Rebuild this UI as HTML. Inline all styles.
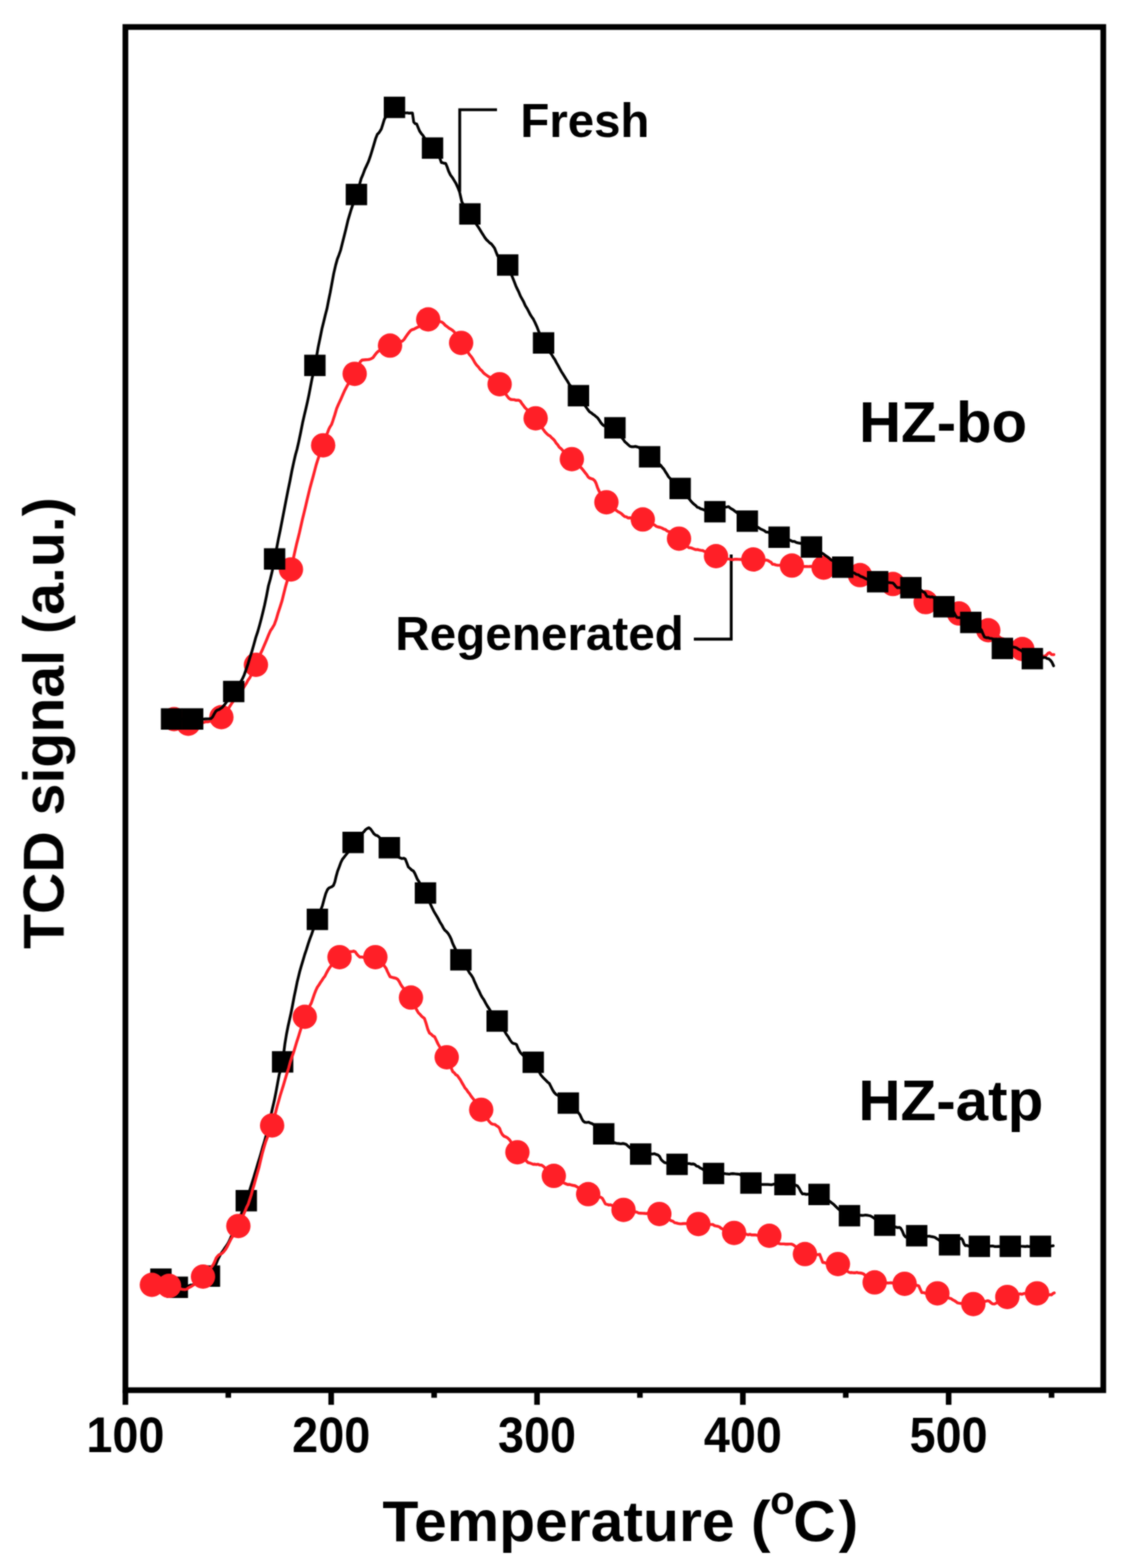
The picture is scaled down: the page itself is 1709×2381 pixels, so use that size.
<!DOCTYPE html>
<html lang="en">
<head>
<meta charset="utf-8">
<title>TCD signal vs temperature: fresh and regenerated HZ-bo and HZ-atp</title>
<style>
html,body{margin:0;padding:0;background:#fff;}
body{width:1709px;height:2381px;overflow:hidden;}
svg{display:block;}
text{font-family:"Liberation Sans",sans-serif;font-weight:700;fill:#000;}
</style>
</head>
<body>
<svg width="1709" height="2381" viewBox="0 0 1709 2381">
<defs><filter id="soft" color-interpolation-filters="sRGB" filterUnits="userSpaceOnUse" x="0" y="0" width="1709" height="2381"><feGaussianBlur in="SourceGraphic" stdDeviation="0.8" result="b"/><feComposite in="SourceGraphic" in2="b" operator="arithmetic" k1="0" k2="0.3" k3="0.7" k4="0"/></filter></defs>
<rect width="1709" height="2381" fill="#fff"/>
<g filter="url(#soft)">
<g fill="none" stroke="#000" stroke-width="4.3" stroke-linejoin="miter"><path d="M698.4 291 V166.7 H755"/><path d="M1110.8 842 V970.5 H1054"/></g>
<g>
<path d="M264.4 1092.0 L267.1 1092.5 L269.8 1094.5 L272.5 1095.6 L275.2 1096.1 L277.9 1097.4 L280.6 1098.2 L283.3 1099.0 L286.0 1099.3 L289.0 1098.5 L291.9 1098.3 L294.9 1099.1 L297.8 1098.4 L300.8 1098.4 L303.8 1097.1 L306.7 1097.2 L309.7 1097.0 L312.6 1095.9 L315.6 1096.1 L318.5 1095.3 L321.5 1093.4 L324.5 1092.6 L327.4 1092.3 L330.4 1091.7 L333.3 1090.0 L336.3 1088.7 L339.0 1087.1 L341.6 1083.6 L344.3 1080.0 L347.0 1076.0 L349.6 1071.8 L352.3 1067.6 L355.1 1063.8 L357.9 1060.1 L360.7 1056.7 L363.6 1052.7 L366.4 1048.5 L369.2 1045.5 L372.0 1041.0 L374.5 1037.2 L376.9 1032.6 L379.4 1029.2 L381.8 1024.6 L384.1 1019.0 L386.4 1014.4 L388.8 1009.8 L391.4 1003.9 L393.9 998.1 L396.4 991.3 L399.0 985.7 L401.9 978.9 L404.9 971.8 L407.9 964.4 L410.8 957.8 L413.8 953.4 L416.7 948.5 L419.6 940.6 L422.6 930.2 L425.6 921.2 L428.5 912.0 L430.9 902.3 L433.4 892.2 L435.8 883.7 L437.9 877.5 L439.9 871.6 L442.0 864.5 L444.3 855.0 L446.5 844.0 L448.8 833.7 L450.8 825.1 L452.9 816.9 L454.9 808.8 L457.2 798.4 L459.5 788.3 L461.8 779.0 L464.1 769.5 L466.4 759.5 L468.7 750.0 L471.0 740.6 L473.3 732.1 L475.6 723.8 L478.0 714.7 L480.3 706.0 L482.6 698.7 L485.4 690.2 L488.1 683.4 L490.9 676.7 L493.7 668.1 L496.6 659.6 L499.4 651.9 L501.4 648.1 L503.5 644.9 L505.5 639.4 L508.4 630.5 L511.4 620.4 L514.3 613.6 L517.3 607.3 L520.2 600.6 L523.2 593.8 L526.1 588.2 L529.0 582.9 L531.5 578.5 L533.9 575.8 L536.3 571.7 L538.8 567.3 L541.6 561.9 L544.5 555.2 L547.3 549.4 L550.1 546.7 L552.9 546.5 L555.6 546.3 L558.4 546.1 L561.1 545.7 L563.9 544.7 L566.6 543.1 L569.3 539.4 L572.0 535.9 L574.7 533.4 L577.7 531.5 L580.6 530.0 L583.6 528.7 L586.6 526.8 L589.5 526.4 L592.5 525.0 L595.2 523.3 L597.9 522.3 L600.6 521.5 L603.4 521.6 L606.1 520.0 L608.8 518.7 L611.5 517.8 L614.0 515.2 L616.4 511.5 L618.9 507.9 L621.3 504.8 L623.8 501.9 L626.3 500.5 L628.7 499.9 L631.2 498.5 L633.6 497.3 L636.1 496.2 L639.0 493.4 L641.9 490.9 L644.7 488.0 L647.6 485.5 L650.5 484.5 L653.5 485.6 L656.5 485.5 L659.5 485.7 L662.5 486.9 L665.5 488.1 L668.5 488.2 L671.5 489.3 L674.0 491.2 L676.6 494.2 L679.1 495.8 L681.9 498.2 L684.7 499.7 L687.5 501.6 L690.1 504.0 L692.7 508.7 L695.3 512.7 L697.9 516.7 L700.5 520.4 L703.1 524.5 L705.7 527.8 L708.2 531.5 L710.8 534.8 L713.4 538.7 L716.0 541.6 L718.7 545.8 L721.4 550.7 L724.1 554.5 L726.8 557.3 L729.3 560.7 L731.7 562.7 L734.2 565.9 L736.6 568.0 L739.1 569.7 L741.9 571.7 L744.8 573.2 L747.6 576.0 L750.5 576.6 L753.3 579.4 L756.2 581.6 L759.0 583.5 L761.8 586.4 L764.6 591.9 L767.5 597.0 L770.3 601.4 L773.1 604.8 L775.9 606.5 L778.4 606.8 L780.8 606.9 L783.3 607.7 L785.7 607.7 L788.2 607.8 L790.5 609.2 L792.8 612.8 L795.1 615.7 L797.4 618.9 L800.1 621.5 L802.8 624.8 L805.5 627.3 L808.3 628.9 L811.0 631.8 L813.7 635.0 L816.6 639.6 L819.5 643.8 L822.3 647.8 L825.2 651.9 L828.1 656.0 L830.6 658.6 L833.0 660.7 L835.5 661.9 L837.9 664.6 L840.4 666.7 L842.7 669.3 L845.0 673.1 L847.3 675.5 L849.6 679.1 L852.3 681.3 L855.1 684.2 L857.8 687.7 L860.5 689.3 L863.2 692.5 L866.0 694.8 L868.7 697.6 L871.7 699.8 L874.6 702.4 L877.6 705.0 L880.6 708.4 L883.5 711.0 L886.5 714.6 L888.8 717.7 L891.1 720.4 L893.4 724.2 L895.7 725.9 L898.3 726.9 L900.8 727.7 L903.4 729.9 L905.4 733.6 L907.5 739.8 L909.5 744.6 L912.4 750.4 L915.4 755.4 L918.3 759.1 L921.2 762.8 L924.1 765.3 L927.1 767.7 L930.0 770.2 L933.0 773.1 L935.9 774.7 L938.9 777.1 L941.8 778.5 L944.2 780.1 L946.7 782.6 L949.1 784.4 L951.6 784.9 L954.0 786.5 L956.8 786.3 L959.6 786.7 L962.4 787.9 L965.2 787.1 L968.1 787.5 L970.9 788.6 L973.7 788.3 L976.5 788.3 L979.4 789.2 L982.4 790.4 L985.3 792.5 L988.2 793.3 L991.1 796.0 L994.1 797.0 L997.0 799.2 L999.8 800.3 L1002.6 800.7 L1005.3 801.8 L1008.1 803.3 L1010.9 804.2 L1013.8 806.5 L1016.8 807.4 L1019.7 809.2 L1022.7 812.3 L1025.6 813.5 L1028.6 815.9 L1031.5 817.8 L1034.5 820.1 L1037.4 822.6 L1040.4 826.6 L1043.4 829.3 L1046.3 831.5 L1049.3 831.9 L1051.8 832.7 L1054.4 833.7 L1056.9 834.6 L1059.5 834.4 L1062.0 835.1 L1064.6 835.6 L1067.5 836.0 L1070.4 837.4 L1073.3 838.4 L1076.2 839.6 L1079.0 840.7 L1081.9 842.2 L1084.8 844.2 L1087.7 844.4 L1090.6 845.5 L1093.5 846.3 L1096.3 847.4 L1099.2 847.5 L1102.1 848.1 L1105.0 848.6 L1107.8 848.9 L1110.7 849.7 L1113.5 849.8 L1116.3 849.1 L1119.1 849.2 L1121.9 849.4 L1124.7 849.5 L1127.6 849.5 L1130.4 849.1 L1133.2 848.8 L1136.0 849.1 L1138.8 848.9 L1141.6 849.5 L1144.4 849.0 L1147.2 849.0 L1150.0 849.8 L1152.8 849.5 L1155.6 850.3 L1158.3 850.2 L1161.1 850.9 L1163.9 850.4 L1166.7 851.2 L1169.0 852.7 L1171.3 853.8 L1173.6 856.8 L1175.9 856.9 L1178.6 857.9 L1181.3 858.4 L1184.0 858.4 L1186.7 857.9 L1189.5 857.8 L1192.2 858.4 L1194.9 858.9 L1197.6 858.3 L1200.3 859.1 L1203.0 858.4 L1205.8 859.5 L1208.7 858.6 L1211.5 859.1 L1214.3 859.9 L1217.2 859.9 L1220.0 860.2 L1222.8 860.3 L1225.7 860.3 L1228.5 860.4 L1231.4 860.0 L1234.2 860.5 L1237.0 860.3 L1239.9 861.2 L1242.7 861.4 L1245.5 861.1 L1248.4 861.1 L1251.2 862.5 L1254.1 862.6 L1257.0 862.6 L1259.9 863.0 L1262.8 863.9 L1265.7 863.9 L1268.6 864.4 L1271.5 864.9 L1274.4 865.4 L1277.3 865.8 L1280.3 867.2 L1283.2 867.6 L1286.1 868.4 L1289.0 868.5 L1291.9 869.6 L1294.8 870.1 L1297.7 870.8 L1300.6 871.6 L1303.5 873.0 L1306.4 873.2 L1309.3 873.9 L1312.3 874.8 L1315.2 875.0 L1318.2 875.4 L1321.1 876.8 L1324.1 877.4 L1327.0 878.3 L1330.0 878.8 L1332.9 879.8 L1335.9 880.7 L1338.8 880.9 L1341.8 882.0 L1344.7 882.9 L1347.7 883.5 L1350.6 884.7 L1353.6 885.8 L1356.5 887.3 L1359.4 888.4 L1362.3 889.0 L1365.3 890.9 L1368.2 891.7 L1371.1 893.4 L1374.0 895.6 L1377.0 897.9 L1379.9 898.8 L1382.8 901.4 L1385.7 903.4 L1388.7 904.6 L1391.6 906.8 L1394.5 908.7 L1397.4 909.8 L1400.4 911.8 L1403.3 913.3 L1406.2 914.4 L1409.2 915.9 L1412.2 917.1 L1415.2 918.3 L1418.2 918.8 L1421.1 919.3 L1424.1 920.4 L1427.1 921.2 L1430.1 922.5 L1433.1 923.7 L1436.1 923.7 L1439.1 925.4 L1442.1 926.4 L1445.0 926.9 L1448.0 928.1 L1451.0 928.8 L1454.0 930.6 L1457.0 931.0 L1460.0 933.5 L1462.9 934.7 L1465.9 936.0 L1468.8 937.2 L1471.8 939.7 L1474.7 941.4 L1477.7 942.2 L1480.6 944.8 L1483.6 946.7 L1486.5 948.3 L1489.5 950.2 L1492.4 951.7 L1495.4 954.1 L1498.3 955.9 L1501.3 956.9 L1504.2 959.0 L1507.0 960.2 L1509.9 961.6 L1512.8 963.5 L1515.7 965.0 L1518.5 967.7 L1521.4 969.5 L1524.3 970.2 L1527.2 972.5 L1530.0 973.9 L1532.9 975.2 L1535.8 977.0 L1538.6 978.5 L1541.5 980.6 L1544.4 981.1 L1547.3 982.7 L1550.1 984.3 L1553.0 984.9 L1555.8 986.8 L1558.7 987.9 L1561.5 989.4 L1564.3 989.8 L1567.2 991.1 L1570.0 992.5 L1572.8 993.1 L1575.7 994.4 L1578.5 994.7 L1581.3 995.7 L1584.2 996.2 L1587.0 996.4 L1589.5 994.9 L1592.0 992.1 L1594.5 991.0 L1597.5 993.9 L1599.2 994.1 L1601.0 994.0" fill="none" stroke="#ff1f27" stroke-width="4.4" stroke-linejoin="round" stroke-linecap="round"/>
<g fill="#ff1f27"><circle cx="264.4" cy="1092.0" r="18.5"/><circle cx="286.0" cy="1099.0" r="18.5"/><circle cx="336.3" cy="1089.0" r="18.5"/><circle cx="388.8" cy="1009.5" r="18.5"/><circle cx="442.0" cy="864.7" r="18.5"/><circle cx="490.9" cy="676.2" r="18.5"/><circle cx="538.8" cy="567.7" r="18.5"/><circle cx="592.5" cy="524.8" r="18.5"/><circle cx="650.5" cy="485.0" r="18.5"/><circle cx="700.5" cy="520.7" r="18.5"/><circle cx="759.0" cy="583.4" r="18.5"/><circle cx="813.7" cy="635.2" r="18.5"/><circle cx="868.7" cy="697.2" r="18.5"/><circle cx="921.2" cy="762.7" r="18.5"/><circle cx="976.5" cy="788.8" r="18.5"/><circle cx="1031.5" cy="817.9" r="18.5"/><circle cx="1087.7" cy="844.5" r="18.5"/><circle cx="1144.4" cy="849.5" r="18.5"/><circle cx="1203.0" cy="858.8" r="18.5"/><circle cx="1251.2" cy="861.9" r="18.5"/><circle cx="1306.4" cy="873.3" r="18.5"/><circle cx="1356.5" cy="886.8" r="18.5"/><circle cx="1406.2" cy="914.3" r="18.5"/><circle cx="1457.0" cy="931.6" r="18.5"/><circle cx="1501.3" cy="957.0" r="18.5"/><circle cx="1553.0" cy="985.5" r="18.5"/></g>
<path d="M260.7 1091.8 L263.6 1092.3 L266.5 1092.3 L269.4 1091.3 L272.3 1091.3 L275.2 1092.2 L278.1 1092.1 L281.0 1092.0 L283.9 1091.6 L286.8 1091.9 L289.7 1091.9 L292.6 1091.9 L295.3 1091.4 L297.9 1091.7 L300.6 1091.6 L303.3 1091.9 L305.9 1092.2 L308.6 1092.1 L311.6 1091.7 L314.5 1091.6 L317.4 1091.5 L320.4 1091.2 L322.9 1088.7 L325.3 1084.2 L327.8 1080.0 L330.2 1078.2 L332.7 1077.5 L335.2 1075.8 L337.6 1074.2 L340.5 1070.9 L343.4 1067.0 L346.3 1063.1 L349.2 1058.4 L352.1 1054.3 L355.0 1050.6 L357.6 1046.7 L360.2 1042.7 L362.8 1040.0 L365.4 1035.9 L368.0 1031.3 L371.0 1024.8 L373.9 1016.5 L376.9 1007.7 L379.8 997.9 L382.8 988.6 L385.7 978.5 L388.6 967.9 L391.6 959.0 L394.5 948.8 L397.0 939.3 L399.4 929.6 L401.9 919.0 L404.9 904.7 L407.8 889.5 L410.6 879.5 L413.3 868.3 L415.2 859.5 L417.1 849.3 L420.0 833.8 L422.8 819.1 L425.8 804.7 L428.7 789.8 L431.6 774.8 L434.5 759.8 L437.4 745.1 L440.4 730.8 L443.4 715.0 L446.3 701.6 L448.8 690.7 L451.2 682.2 L453.7 671.4 L456.6 657.5 L459.6 642.3 L462.2 630.9 L464.8 620.0 L467.0 610.4 L469.2 600.1 L471.5 588.1 L473.8 576.1 L476.1 565.8 L478.3 555.4 L480.9 541.4 L483.4 526.9 L486.4 512.5 L489.3 498.2 L491.8 488.3 L494.2 478.2 L496.7 468.8 L499.1 456.3 L501.6 444.4 L504.0 431.3 L506.9 415.6 L509.9 402.6 L512.4 393.6 L514.8 387.4 L517.3 380.4 L519.9 370.1 L522.5 359.7 L525.5 347.7 L528.5 334.9 L530.8 327.2 L533.2 319.0 L535.5 312.3 L538.5 303.5 L541.5 295.5 L543.9 287.0 L546.2 280.0 L548.6 271.4 L551.4 264.9 L554.1 257.5 L556.9 251.5 L559.6 245.7 L562.4 237.8 L565.1 229.2 L567.8 220.2 L570.5 210.8 L573.2 203.9 L575.2 202.2 L577.3 199.1 L579.3 195.9 L581.6 188.6 L583.9 181.1 L586.5 176.6 L589.0 171.5 L591.6 168.1 L594.2 164.9 L596.7 163.6 L599.3 163.3 L602.1 163.9 L605.0 165.6 L607.8 167.4 L610.6 169.5 L613.5 171.0 L616.3 171.5 L618.8 171.3 L621.4 171.9 L624.0 171.6 L626.5 171.5 L628.5 185.3 L630.8 187.8 L633.1 188.4 L635.2 193.7 L637.4 199.0 L640.0 202.8 L642.5 205.6 L645.4 210.3 L648.3 213.2 L651.2 217.3 L654.1 220.8 L657.0 224.2 L659.8 228.5 L662.6 231.6 L665.5 235.6 L668.3 240.6 L670.5 246.9 L672.7 247.2 L674.8 247.9 L677.0 248.1 L679.2 253.3 L681.5 260.0 L684.3 265.7 L687.1 269.4 L689.9 274.0 L692.6 278.4 L695.4 284.5 L698.2 291.6 L699.9 299.3 L701.5 306.3 L704.0 311.0 L706.5 315.1 L708.9 318.4 L711.4 320.8 L713.9 324.2 L716.5 328.8 L719.1 332.7 L721.6 337.7 L724.2 341.3 L726.8 345.2 L729.3 349.2 L731.7 353.2 L734.2 357.0 L736.6 360.9 L739.1 364.1 L741.6 366.4 L744.0 368.9 L746.5 370.4 L748.9 373.6 L751.4 377.0 L753.7 382.9 L756.0 388.6 L758.5 391.9 L761.1 394.1 L763.6 395.2 L766.2 397.3 L768.8 399.5 L771.3 402.1 L773.9 407.4 L776.4 415.7 L779.0 422.3 L781.3 428.1 L783.6 434.1 L785.9 439.0 L788.2 443.7 L790.7 449.8 L793.1 454.1 L795.6 458.6 L798.0 464.2 L800.5 468.1 L803.0 472.7 L805.4 477.5 L807.9 481.3 L810.3 484.8 L812.8 489.9 L815.4 495.6 L818.0 502.3 L820.5 508.6 L823.1 515.4 L825.7 520.2 L828.6 525.4 L831.6 529.8 L834.5 534.4 L837.5 537.4 L840.4 542.6 L842.9 546.0 L845.3 550.8 L847.8 555.0 L850.2 559.5 L852.7 564.1 L855.0 567.6 L857.3 571.3 L859.6 575.1 L861.9 578.6 L864.7 583.5 L867.5 586.9 L870.3 590.8 L873.2 593.9 L876.0 596.6 L878.8 601.1 L881.6 605.3 L884.4 609.6 L887.2 613.8 L890.1 617.9 L892.9 621.9 L895.7 625.5 L898.2 626.9 L900.6 628.9 L903.1 630.5 L905.5 632.7 L908.0 634.7 L910.3 637.9 L912.6 641.6 L914.9 644.4 L917.2 646.3 L920.0 647.3 L922.8 647.5 L925.7 648.1 L928.5 648.7 L931.3 649.4 L934.1 649.7 L936.6 651.8 L939.2 654.3 L941.8 658.9 L944.3 664.2 L946.9 667.4 L949.4 671.0 L952.0 673.2 L954.5 675.5 L957.1 677.8 L959.8 678.4 L962.5 678.3 L965.2 677.9 L967.9 678.6 L970.6 679.5 L973.3 681.7 L976.0 683.8 L978.8 686.0 L981.5 688.7 L984.2 690.8 L986.9 693.6 L989.7 696.3 L992.4 698.1 L995.2 699.3 L998.0 701.9 L1000.8 704.4 L1003.5 706.4 L1006.3 710.0 L1008.6 712.5 L1010.9 716.5 L1013.2 719.9 L1015.5 723.9 L1018.5 727.1 L1021.4 730.1 L1024.4 732.5 L1027.4 735.7 L1030.3 738.1 L1033.3 741.9 L1036.0 745.3 L1038.7 747.6 L1041.4 751.3 L1044.2 754.5 L1046.9 757.5 L1049.6 760.8 L1052.3 763.8 L1054.6 765.8 L1056.9 767.7 L1059.2 770.2 L1061.5 770.8 L1064.2 772.4 L1067.0 773.3 L1069.7 774.4 L1072.4 775.3 L1075.2 775.3 L1077.9 776.3 L1080.6 776.5 L1083.4 777.1 L1086.1 777.6 L1088.7 776.7 L1091.4 774.9 L1094.0 774.0 L1096.6 772.6 L1099.2 771.4 L1101.9 770.0 L1104.5 769.8 L1106.8 769.3 L1109.2 771.5 L1111.5 772.8 L1113.8 774.1 L1116.5 776.3 L1119.2 778.3 L1121.8 779.7 L1124.5 783.0 L1127.2 785.3 L1129.8 787.0 L1132.5 789.8 L1135.2 791.5 L1138.0 792.8 L1140.9 795.3 L1143.7 796.2 L1146.6 798.5 L1149.4 799.8 L1152.3 801.2 L1155.1 803.1 L1158.0 804.4 L1160.8 805.6 L1163.7 807.9 L1166.5 808.1 L1169.4 809.3 L1172.2 811.2 L1175.1 812.8 L1177.9 813.8 L1180.8 815.0 L1183.6 815.8 L1186.5 817.1 L1189.4 817.6 L1192.3 818.4 L1195.2 819.6 L1198.0 819.8 L1200.9 820.6 L1203.8 822.2 L1206.7 822.2 L1209.6 823.7 L1212.5 824.4 L1215.4 824.8 L1218.3 825.9 L1221.1 826.9 L1224.0 827.9 L1226.9 828.0 L1229.8 829.1 L1232.7 830.5 L1235.7 831.9 L1238.7 833.2 L1241.6 834.6 L1244.6 837.1 L1247.6 839.5 L1250.5 840.9 L1253.5 843.2 L1256.5 845.2 L1259.5 847.5 L1262.5 850.2 L1265.4 851.7 L1268.4 854.2 L1271.4 856.0 L1274.3 858.0 L1277.3 860.2 L1280.3 860.8 L1283.2 863.2 L1286.2 864.1 L1289.1 866.0 L1292.1 867.8 L1295.0 869.1 L1297.9 870.3 L1300.9 872.3 L1303.8 872.8 L1306.8 874.9 L1309.7 875.9 L1312.6 877.3 L1315.6 878.9 L1318.5 879.9 L1321.4 880.7 L1324.4 881.2 L1327.3 881.9 L1330.3 882.8 L1333.2 883.1 L1336.1 883.5 L1339.0 884.6 L1342.0 883.8 L1344.9 884.8 L1347.8 884.5 L1350.8 884.7 L1353.7 885.0 L1356.6 885.3 L1358.8 887.7 L1361.0 890.5 L1363.2 892.4 L1366.1 892.3 L1369.1 893.0 L1372.0 893.0 L1375.0 892.4 L1377.9 892.7 L1380.9 893.0 L1383.8 892.3 L1386.5 892.1 L1389.1 892.7 L1391.8 893.2 L1394.4 894.7 L1397.1 895.4 L1399.8 896.7 L1402.4 898.8 L1405.1 899.9 L1406.8 903.5 L1408.4 905.9 L1410.9 906.0 L1413.4 906.7 L1415.9 906.3 L1418.4 907.3 L1421.0 908.5 L1423.6 910.2 L1426.2 913.3 L1428.7 916.8 L1431.3 919.4 L1433.9 921.7 L1436.5 923.4 L1439.0 924.6 L1441.6 925.5 L1444.1 926.9 L1446.7 927.6 L1449.2 930.0 L1451.4 934.4 L1453.6 937.5 L1456.3 937.9 L1459.1 937.9 L1461.7 939.4 L1464.3 939.6 L1466.9 940.9 L1469.5 942.8 L1472.1 943.3 L1474.7 945.7 L1477.4 946.0 L1480.2 947.3 L1482.9 949.2 L1485.6 951.0 L1488.4 954.0 L1491.1 956.9 L1493.3 962.7 L1495.5 967.3 L1498.3 968.3 L1501.0 968.3 L1503.8 969.4 L1506.6 969.5 L1509.3 971.0 L1512.0 974.4 L1514.7 977.3 L1517.4 980.9 L1520.1 984.1 L1522.8 984.1 L1525.6 984.0 L1528.4 983.8 L1531.2 983.5 L1534.0 983.2 L1536.8 982.7 L1539.6 982.7 L1542.0 983.0 L1544.5 983.9 L1546.9 985.6 L1549.4 986.8 L1551.8 988.2 L1554.5 990.6 L1557.3 992.2 L1560.0 994.9 L1562.8 998.2 L1565.5 999.4 L1568.3 1000.4 L1571.2 999.5 L1574.2 999.7 L1577.2 999.6 L1580.1 998.6 L1583.0 998.8 L1586.0 998.4 L1588.3 998.5 L1590.7 1000.0 L1593.0 1000.4 L1595.5 1002.4 L1598.0 1005.6 L1600.5 1011.0" fill="none" stroke="#000" stroke-width="4.2" stroke-linejoin="round" stroke-linecap="round"/>
<g fill="#000"><rect x="244.4" y="1075.5" width="32.5" height="32.5"/><rect x="276.4" y="1075.5" width="32.5" height="32.5"/><rect x="338.8" y="1033.8" width="32.5" height="32.5"/><rect x="400.9" y="832.5" width="32.5" height="32.5"/><rect x="462.1" y="538.6" width="32.5" height="32.5"/><rect x="525.2" y="279.1" width="32.5" height="32.5"/><rect x="583.0" y="146.8" width="32.5" height="32.5"/><rect x="640.8" y="208.6" width="32.5" height="32.5"/><rect x="697.6" y="308.6" width="32.5" height="32.5"/><rect x="755.0" y="386.2" width="32.5" height="32.5"/><rect x="809.5" y="504.5" width="32.5" height="32.5"/><rect x="862.5" y="584.6" width="32.5" height="32.5"/><rect x="917.9" y="633.4" width="32.5" height="32.5"/><rect x="970.6" y="677.4" width="32.5" height="32.5"/><rect x="1017.0" y="725.5" width="32.5" height="32.5"/><rect x="1069.8" y="760.8" width="32.5" height="32.5"/><rect x="1119.0" y="775.1" width="32.5" height="32.5"/><rect x="1167.3" y="799.5" width="32.5" height="32.5"/><rect x="1216.5" y="814.4" width="32.5" height="32.5"/><rect x="1264.0" y="845.0" width="32.5" height="32.5"/><rect x="1317.0" y="867.1" width="32.5" height="32.5"/><rect x="1367.5" y="876.2" width="32.5" height="32.5"/><rect x="1417.7" y="905.1" width="32.5" height="32.5"/><rect x="1458.5" y="928.9" width="32.5" height="32.5"/><rect x="1506.5" y="968.4" width="32.5" height="32.5"/><rect x="1552.0" y="983.9" width="32.5" height="32.5"/></g>
</g>
<g>
<path d="M244.5 1942.4 L247.3 1943.6 L250.0 1945.7 L252.8 1947.3 L255.6 1949.3 L258.3 1951.1 L261.1 1951.9 L263.9 1953.0 L266.6 1954.8 L269.4 1954.4 L272.3 1954.3 L275.1 1955.0 L278.0 1954.1 L280.9 1954.1 L283.8 1953.1 L286.6 1952.7 L289.5 1951.3 L292.4 1951.0 L295.2 1950.3 L298.1 1948.7 L301.0 1947.8 L303.8 1946.3 L306.7 1944.2 L309.6 1943.4 L312.5 1941.6 L315.3 1939.4 L318.2 1937.2 L320.8 1935.4 L323.3 1930.3 L325.9 1924.8 L328.5 1918.7 L331.0 1912.5 L333.6 1907.6 L336.4 1902.5 L339.1 1898.8 L341.9 1894.4 L344.6 1890.8 L347.4 1886.1 L350.4 1879.5 L353.3 1873.5 L356.3 1867.3 L359.3 1861.5 L362.2 1853.8 L365.2 1846.8 L368.2 1838.8 L371.1 1831.3 L374.1 1823.2 L377.0 1814.8 L379.8 1806.0 L382.7 1796.7 L385.0 1789.5 L387.3 1781.6 L389.6 1774.1 L391.9 1766.2 L394.2 1758.8 L396.5 1751.0 L398.8 1742.7 L401.1 1735.5 L403.5 1726.7 L406.0 1717.3 L408.4 1707.2 L410.8 1697.3 L413.6 1684.3 L416.5 1672.1 L419.3 1658.1 L421.8 1644.4 L424.2 1631.5 L426.8 1623.2 L429.3 1613.1 L431.1 1598.2 L432.9 1584.3 L435.2 1570.5 L437.5 1558.8 L439.8 1548.5 L442.1 1538.1 L444.4 1526.5 L446.8 1513.6 L449.1 1502.7 L451.4 1491.3 L453.4 1483.3 L455.5 1474.6 L457.5 1467.7 L460.2 1458.6 L462.9 1449.5 L465.5 1441.9 L468.2 1433.2 L470.8 1425.5 L473.3 1419.0 L475.9 1411.3 L478.0 1406.2 L480.0 1401.2 L482.1 1396.1 L484.6 1388.8 L487.2 1381.8 L489.7 1375.5 L492.3 1365.8 L494.8 1357.0 L497.4 1351.0 L499.7 1348.4 L502.0 1347.4 L504.3 1346.3 L506.6 1344.5 L508.7 1339.1 L510.7 1330.6 L512.8 1323.0 L515.4 1316.3 L517.9 1309.4 L520.5 1304.3 L523.0 1301.3 L525.6 1298.0 L528.1 1295.0 L530.9 1290.6 L533.7 1284.1 L536.5 1279.3 L539.2 1275.2 L541.9 1272.7 L544.6 1270.2 L547.3 1267.1 L550.0 1265.5 L552.7 1263.2 L555.3 1259.9 L557.8 1258.1 L560.4 1256.8 L563.0 1258.9 L565.5 1262.4 L568.1 1266.2 L570.6 1268.2 L573.2 1268.9 L575.7 1270.8 L578.3 1273.8 L581.0 1276.7 L583.6 1278.6 L586.2 1281.7 L588.9 1284.6 L591.5 1287.0 L594.2 1290.0 L597.0 1293.1 L599.8 1296.3 L602.5 1299.4 L605.2 1301.3 L608.0 1302.8 L610.6 1303.7 L613.1 1303.2 L615.7 1304.5 L618.0 1310.3 L620.3 1316.5 L622.9 1318.8 L625.4 1321.1 L628.0 1322.6 L630.0 1325.9 L632.1 1330.7 L634.1 1335.3 L636.6 1338.9 L639.0 1343.2 L641.5 1347.2 L643.9 1351.9 L646.4 1355.9 L649.0 1362.0 L651.5 1367.3 L654.1 1373.3 L656.5 1378.6 L659.0 1383.7 L661.4 1387.8 L663.9 1391.9 L666.3 1396.1 L668.6 1400.7 L671.0 1404.3 L673.3 1408.8 L675.6 1412.3 L678.1 1414.5 L680.7 1417.4 L683.2 1421.5 L685.3 1425.8 L687.3 1431.6 L689.4 1436.3 L692.1 1441.8 L694.8 1447.4 L697.4 1453.1 L700.1 1457.1 L702.8 1461.5 L705.5 1465.4 L708.2 1469.2 L710.9 1473.2 L713.5 1477.7 L716.0 1480.8 L718.6 1485.0 L720.9 1490.7 L723.2 1495.6 L725.4 1500.8 L727.7 1504.9 L730.1 1510.2 L732.6 1514.6 L735.0 1518.0 L737.5 1522.8 L739.9 1527.0 L742.5 1531.0 L745.0 1534.9 L747.6 1538.6 L750.2 1542.6 L752.7 1546.3 L755.3 1549.9 L758.1 1554.5 L760.9 1558.1 L763.6 1562.6 L766.4 1565.5 L769.2 1570.5 L772.0 1574.2 L774.8 1579.1 L777.5 1582.9 L779.8 1584.4 L782.2 1585.0 L784.5 1585.9 L787.2 1592.4 L790.0 1597.6 L792.9 1600.8 L795.7 1603.5 L798.6 1605.1 L801.4 1606.6 L804.3 1608.9 L807.1 1610.5 L810.0 1612.8 L812.9 1616.5 L815.8 1622.1 L818.7 1626.9 L821.6 1632.2 L824.5 1635.8 L827.0 1638.2 L829.5 1640.7 L832.0 1643.3 L834.5 1645.2 L837.0 1650.1 L839.5 1655.2 L842.0 1659.0 L844.7 1661.8 L847.4 1663.1 L850.0 1665.9 L852.7 1668.0 L855.4 1668.7 L858.0 1670.7 L860.7 1672.6 L863.4 1675.1 L866.4 1677.6 L869.3 1680.3 L872.3 1683.4 L875.3 1685.5 L878.2 1689.0 L881.2 1693.1 L883.5 1698.2 L885.8 1702.2 L888.5 1704.2 L891.2 1704.5 L893.9 1704.0 L896.6 1705.2 L899.5 1706.3 L902.5 1708.3 L905.4 1710.8 L908.3 1713.9 L911.2 1716.6 L914.2 1719.1 L917.1 1721.3 L919.9 1723.9 L922.6 1726.4 L925.4 1729.7 L928.2 1732.5 L931.0 1734.3 L933.7 1735.4 L936.5 1736.1 L939.0 1736.3 L941.4 1736.6 L943.9 1736.8 L946.3 1736.4 L948.8 1736.9 L951.3 1737.8 L953.9 1740.2 L956.4 1742.4 L959.2 1744.7 L962.0 1747.1 L964.8 1748.9 L967.7 1751.0 L970.5 1752.0 L973.3 1752.2 L975.9 1752.5 L978.6 1752.6 L981.2 1751.7 L983.9 1752.0 L986.5 1751.8 L989.2 1752.3 L991.8 1752.3 L994.3 1751.9 L996.9 1753.1 L999.4 1753.7 L1002.0 1756.1 L1004.5 1761.1 L1007.1 1763.6 L1009.8 1765.4 L1012.5 1766.0 L1015.2 1767.0 L1017.8 1767.5 L1020.5 1767.7 L1023.2 1768.1 L1025.9 1768.1 L1028.6 1767.6 L1031.3 1768.2 L1034.0 1767.4 L1036.7 1767.4 L1039.3 1768.0 L1042.0 1766.9 L1044.7 1766.9 L1047.4 1766.8 L1050.1 1767.7 L1052.8 1767.3 L1055.5 1768.3 L1058.2 1770.8 L1060.9 1771.3 L1063.8 1773.6 L1066.7 1774.9 L1069.5 1776.7 L1072.4 1778.5 L1075.3 1779.5 L1078.2 1781.0 L1081.0 1780.9 L1083.9 1782.2 L1086.6 1782.1 L1089.3 1782.4 L1092.0 1781.8 L1094.7 1782.7 L1097.3 1783.0 L1100.0 1782.0 L1102.7 1782.4 L1105.4 1782.7 L1108.0 1783.0 L1110.5 1782.3 L1113.1 1782.2 L1115.7 1782.3 L1118.2 1782.7 L1120.8 1782.9 L1123.6 1783.2 L1126.5 1785.0 L1129.3 1787.5 L1132.2 1790.3 L1135.0 1793.0 L1137.9 1794.8 L1140.7 1796.4 L1143.6 1797.5 L1146.4 1797.2 L1149.3 1798.0 L1152.1 1797.6 L1155.0 1798.5 L1157.8 1798.7 L1160.7 1798.7 L1163.6 1798.6 L1166.5 1798.6 L1169.4 1798.8 L1172.3 1799.1 L1175.2 1798.2 L1178.0 1798.2 L1180.9 1799.0 L1183.8 1799.2 L1186.7 1798.7 L1189.6 1798.7 L1192.5 1799.1 L1195.2 1798.5 L1197.9 1798.7 L1200.6 1798.8 L1203.3 1799.5 L1206.0 1799.4 L1208.7 1799.7 L1211.4 1800.7 L1214.0 1804.4 L1216.5 1809.4 L1219.1 1813.0 L1221.9 1812.9 L1224.7 1813.6 L1227.5 1813.3 L1230.3 1813.0 L1233.1 1813.0 L1235.9 1812.8 L1238.7 1813.4 L1241.5 1813.4 L1244.3 1813.3 L1247.1 1814.2 L1249.8 1815.5 L1252.6 1817.9 L1255.3 1819.4 L1258.1 1822.8 L1260.8 1824.5 L1263.6 1826.7 L1266.6 1828.9 L1269.6 1831.9 L1272.5 1834.8 L1275.5 1837.3 L1278.5 1839.9 L1281.5 1842.6 L1284.4 1844.7 L1287.4 1845.4 L1290.4 1846.3 L1293.2 1846.5 L1295.9 1845.8 L1298.7 1845.3 L1301.4 1845.1 L1304.2 1845.5 L1306.9 1845.3 L1309.7 1845.6 L1312.2 1845.5 L1314.6 1845.0 L1317.1 1845.3 L1319.5 1845.8 L1322.0 1846.2 L1324.8 1847.8 L1327.5 1849.5 L1330.3 1851.6 L1333.0 1853.0 L1335.8 1856.0 L1338.6 1857.4 L1341.3 1859.2 L1344.1 1860.7 L1347.1 1860.6 L1350.0 1861.1 L1353.0 1862.5 L1356.0 1862.2 L1358.9 1862.8 L1361.9 1863.6 L1364.0 1864.1 L1366.0 1863.7 L1368.1 1864.8 L1370.6 1869.0 L1373.2 1875.4 L1375.7 1878.5 L1378.5 1878.7 L1381.3 1878.7 L1384.2 1877.5 L1387.0 1877.1 L1389.8 1876.1 L1392.6 1876.1 L1395.3 1876.6 L1398.0 1876.0 L1400.7 1877.0 L1403.3 1877.1 L1406.0 1876.3 L1408.7 1877.5 L1411.4 1877.0 L1414.1 1877.6 L1416.9 1878.1 L1419.8 1878.7 L1422.6 1880.6 L1425.4 1882.3 L1428.2 1884.4 L1431.1 1885.6 L1433.9 1887.9 L1436.7 1889.5 L1439.6 1890.1 L1442.4 1890.2 L1445.4 1889.0 L1448.3 1887.6 L1451.3 1885.1 L1454.3 1883.1 L1457.2 1881.2 L1460.2 1880.4 L1462.2 1882.6 L1464.3 1888.3 L1466.3 1891.3 L1469.0 1891.1 L1471.7 1892.3 L1474.4 1892.3 L1477.0 1891.8 L1479.7 1892.9 L1482.4 1892.1 L1485.1 1892.4 L1487.8 1892.9 L1490.7 1892.7 L1493.7 1892.7 L1496.6 1892.8 L1499.5 1892.5 L1502.5 1892.4 L1505.4 1892.2 L1508.4 1892.1 L1511.3 1892.9 L1514.2 1892.9 L1517.2 1892.7 L1520.1 1892.9 L1523.0 1892.4 L1526.0 1892.3 L1528.9 1892.5 L1531.9 1893.0 L1534.8 1892.1 L1537.7 1892.6 L1540.5 1892.3 L1543.4 1892.9 L1546.2 1892.4 L1549.1 1892.4 L1552.0 1892.5 L1554.8 1892.6 L1557.7 1892.9 L1560.6 1892.4 L1563.4 1893.0 L1566.3 1892.1 L1569.1 1892.3 L1572.0 1892.1 L1574.9 1892.1 L1577.7 1892.9 L1580.6 1892.9 L1583.4 1892.2 L1586.1 1892.1 L1588.9 1892.2 L1591.7 1892.5 L1594.5 1892.4 L1597.2 1892.1 L1600.0 1891.7" fill="none" stroke="#000" stroke-width="4.2" stroke-linejoin="round" stroke-linecap="round"/>
<g fill="#000"><rect x="228.2" y="1926.2" width="32.5" height="32.5"/><rect x="253.1" y="1938.5" width="32.5" height="32.5"/><rect x="301.9" y="1921.5" width="32.5" height="32.5"/><rect x="357.9" y="1807.0" width="32.5" height="32.5"/><rect x="413.1" y="1596.2" width="32.5" height="32.5"/><rect x="465.9" y="1379.8" width="32.5" height="32.5"/><rect x="520.2" y="1263.0" width="32.5" height="32.5"/><rect x="575.2" y="1271.0" width="32.5" height="32.5"/><rect x="630.1" y="1339.8" width="32.5" height="32.5"/><rect x="683.9" y="1441.2" width="32.5" height="32.5"/><rect x="739.0" y="1534.2" width="32.5" height="32.5"/><rect x="793.8" y="1596.8" width="32.5" height="32.5"/><rect x="847.1" y="1658.8" width="32.5" height="32.5"/><rect x="900.9" y="1705.5" width="32.5" height="32.5"/><rect x="957.0" y="1736.2" width="32.5" height="32.5"/><rect x="1012.3" y="1751.8" width="32.5" height="32.5"/><rect x="1067.7" y="1765.7" width="32.5" height="32.5"/><rect x="1124.5" y="1780.2" width="32.5" height="32.5"/><rect x="1176.2" y="1782.5" width="32.5" height="32.5"/><rect x="1228.0" y="1797.5" width="32.5" height="32.5"/><rect x="1274.2" y="1829.8" width="32.5" height="32.5"/><rect x="1327.8" y="1844.2" width="32.5" height="32.5"/><rect x="1376.3" y="1860.2" width="32.5" height="32.5"/><rect x="1426.2" y="1874.0" width="32.5" height="32.5"/><rect x="1471.5" y="1876.3" width="32.5" height="32.5"/><rect x="1518.5" y="1876.3" width="32.5" height="32.5"/><rect x="1564.3" y="1876.3" width="32.5" height="32.5"/></g>
<path d="M230.7 1951.0 L233.6 1950.9 L236.5 1950.8 L239.4 1951.3 L242.3 1951.2 L245.2 1951.2 L248.1 1951.8 L251.0 1952.6 L253.9 1952.7 L256.8 1952.9 L259.5 1952.7 L262.3 1953.6 L265.0 1954.0 L267.7 1954.7 L270.5 1955.4 L273.2 1956.3 L275.9 1957.7 L278.7 1958.0 L281.4 1958.2 L283.7 1957.7 L286.0 1955.8 L288.3 1954.5 L290.6 1953.4 L293.6 1951.5 L296.5 1949.5 L299.5 1947.1 L302.5 1943.6 L305.4 1941.5 L308.4 1938.7 L311.0 1935.9 L313.7 1932.7 L316.4 1930.1 L319.0 1926.4 L321.6 1923.8 L324.3 1919.8 L326.4 1915.3 L328.4 1910.3 L330.5 1907.6 L332.8 1905.3 L335.1 1904.4 L337.4 1903.1 L339.7 1901.0 L342.4 1897.5 L345.1 1893.0 L347.8 1887.6 L350.5 1882.2 L353.4 1877.3 L356.3 1872.9 L359.2 1866.7 L362.1 1861.2 L364.6 1856.7 L367.1 1850.8 L369.5 1845.4 L372.0 1839.6 L374.5 1833.6 L377.1 1828.4 L379.6 1820.7 L381.7 1814.4 L383.7 1806.7 L385.8 1799.8 L388.4 1790.3 L390.9 1781.3 L393.5 1772.3 L396.0 1761.4 L398.6 1750.8 L401.1 1741.8 L403.6 1733.6 L406.0 1727.4 L408.5 1721.8 L410.9 1716.4 L413.4 1709.1 L416.0 1699.6 L418.5 1689.6 L421.1 1679.5 L423.3 1671.9 L425.6 1663.6 L427.8 1656.7 L430.5 1648.0 L433.1 1639.2 L435.8 1630.2 L438.5 1621.8 L440.9 1612.7 L443.4 1605.3 L445.9 1598.3 L448.3 1590.3 L450.9 1581.7 L453.4 1574.1 L456.0 1565.6 L458.3 1558.4 L460.7 1550.4 L463.0 1543.6 L465.5 1538.1 L467.9 1532.5 L470.4 1527.8 L472.9 1523.1 L475.2 1516.5 L477.5 1509.8 L479.8 1503.9 L482.1 1499.0 L484.4 1495.8 L486.7 1492.0 L489.0 1488.7 L491.3 1485.1 L493.6 1482.3 L495.9 1477.6 L498.2 1473.4 L500.5 1469.8 L503.1 1466.3 L505.6 1463.2 L508.1 1460.7 L510.7 1457.3 L513.2 1454.7 L515.8 1453.4 L518.5 1451.4 L521.2 1450.6 L523.9 1448.0 L526.5 1447.1 L529.2 1446.2 L531.9 1444.9 L534.6 1445.0 L537.3 1444.2 L539.6 1445.3 L542.0 1448.7 L544.3 1451.4 L546.6 1453.3 L549.6 1453.1 L552.5 1453.9 L555.5 1453.8 L558.4 1453.4 L561.4 1452.8 L564.3 1453.1 L567.2 1453.1 L570.2 1453.0 L572.9 1453.8 L575.6 1456.5 L578.4 1458.5 L581.1 1461.9 L583.8 1466.8 L586.5 1470.4 L588.5 1475.1 L590.6 1479.4 L592.6 1483.1 L594.9 1483.8 L597.2 1484.5 L599.5 1485.0 L601.8 1485.6 L604.1 1487.1 L606.5 1490.5 L608.8 1495.0 L611.1 1498.4 L613.7 1501.7 L616.4 1504.1 L619.0 1507.7 L621.7 1511.3 L624.3 1515.0 L627.1 1520.6 L630.0 1526.7 L632.8 1533.1 L635.6 1538.0 L637.9 1540.1 L640.2 1542.8 L642.5 1544.8 L644.8 1546.6 L647.4 1554.3 L649.9 1563.0 L652.5 1568.8 L655.1 1570.4 L657.6 1573.0 L660.2 1574.3 L662.8 1579.6 L665.3 1585.0 L667.9 1589.5 L670.6 1593.6 L673.2 1597.7 L675.9 1601.2 L678.6 1605.7 L680.9 1611.0 L683.2 1616.3 L685.5 1621.9 L687.8 1627.4 L690.1 1629.0 L692.5 1632.1 L694.8 1633.2 L697.1 1636.5 L699.4 1639.8 L701.7 1644.0 L704.0 1647.8 L706.3 1652.0 L708.6 1654.4 L710.9 1658.0 L713.2 1660.6 L715.5 1664.3 L718.1 1667.7 L720.7 1670.9 L723.2 1674.5 L725.8 1677.5 L728.4 1681.1 L731.0 1685.3 L733.5 1688.9 L736.0 1693.3 L738.5 1697.0 L741.1 1700.1 L743.6 1703.5 L746.1 1706.1 L748.8 1707.1 L751.5 1707.4 L754.1 1709.3 L756.8 1710.8 L758.9 1713.3 L760.9 1718.9 L763.0 1722.6 L765.7 1725.4 L768.4 1726.4 L771.0 1727.9 L773.7 1730.3 L776.2 1734.0 L778.6 1737.1 L781.1 1741.6 L783.5 1746.5 L786.0 1750.2 L788.7 1752.7 L791.4 1755.5 L794.1 1758.8 L796.8 1761.2 L799.4 1762.6 L802.1 1765.4 L804.8 1766.0 L807.5 1767.0 L810.0 1768.0 L812.4 1767.8 L814.9 1768.4 L817.3 1767.9 L819.8 1769.1 L822.5 1769.2 L825.2 1770.8 L827.9 1773.3 L830.5 1775.6 L833.2 1778.4 L835.9 1781.5 L838.6 1783.7 L841.3 1785.0 L843.9 1787.4 L846.6 1789.8 L849.2 1791.9 L851.8 1794.1 L854.4 1795.6 L857.1 1796.5 L859.7 1797.6 L862.4 1798.8 L865.1 1798.5 L867.8 1799.3 L870.5 1800.0 L873.4 1800.5 L876.2 1802.0 L879.1 1803.9 L882.0 1805.6 L884.9 1808.5 L887.8 1810.1 L890.6 1812.4 L893.5 1813.1 L896.2 1814.6 L898.9 1815.2 L901.6 1815.5 L904.2 1815.7 L906.9 1815.9 L909.6 1817.4 L912.3 1817.9 L915.0 1819.6 L917.3 1823.7 L919.6 1828.1 L922.3 1828.8 L925.0 1829.9 L927.6 1829.4 L930.3 1830.7 L933.1 1830.9 L935.9 1832.3 L938.8 1833.4 L941.6 1835.2 L944.4 1835.8 L947.2 1837.1 L950.1 1838.4 L953.0 1838.2 L955.9 1839.4 L958.8 1839.6 L961.7 1840.1 L964.6 1840.2 L967.5 1840.6 L970.4 1842.1 L973.3 1842.2 L976.1 1842.4 L979.0 1842.5 L981.8 1842.9 L984.6 1842.0 L987.5 1842.6 L990.3 1842.6 L993.1 1842.8 L995.9 1843.4 L998.8 1843.4 L1001.6 1844.0 L1004.6 1843.7 L1007.5 1845.8 L1010.5 1847.7 L1013.5 1849.8 L1016.4 1851.7 L1019.4 1853.6 L1022.1 1854.4 L1024.8 1856.6 L1027.5 1857.1 L1030.2 1857.9 L1033.0 1858.4 L1035.8 1858.3 L1038.6 1858.0 L1041.4 1858.0 L1044.2 1858.1 L1046.9 1858.6 L1049.7 1859.1 L1052.5 1859.0 L1055.3 1858.4 L1058.1 1858.5 L1060.9 1859.1 L1063.7 1858.5 L1066.6 1858.7 L1069.4 1858.3 L1072.3 1858.6 L1075.1 1859.1 L1078.0 1859.4 L1080.8 1859.4 L1083.1 1859.5 L1085.4 1861.1 L1087.7 1861.6 L1090.0 1862.0 L1092.8 1863.0 L1095.6 1865.3 L1098.4 1866.6 L1101.2 1867.8 L1104.0 1868.7 L1106.8 1869.5 L1109.6 1870.3 L1112.4 1871.3 L1115.2 1871.9 L1118.2 1873.2 L1121.2 1873.5 L1124.2 1873.7 L1127.2 1873.3 L1130.2 1873.7 L1133.2 1874.0 L1136.2 1875.0 L1139.2 1874.3 L1142.2 1875.3 L1145.1 1875.3 L1148.0 1875.3 L1151.0 1875.9 L1154.0 1875.1 L1156.9 1875.6 L1159.9 1875.3 L1162.8 1875.4 L1165.8 1875.6 L1168.7 1876.3 L1171.4 1877.1 L1174.1 1879.3 L1176.8 1883.2 L1179.6 1885.1 L1182.3 1888.0 L1185.0 1888.7 L1187.9 1888.9 L1190.7 1888.9 L1193.6 1889.3 L1196.5 1889.3 L1199.3 1889.1 L1202.2 1889.1 L1205.1 1890.2 L1208.1 1892.4 L1211.0 1895.1 L1214.0 1898.2 L1216.9 1900.8 L1219.9 1903.8 L1222.8 1904.3 L1225.6 1903.9 L1228.4 1904.1 L1231.2 1905.0 L1234.0 1904.3 L1236.8 1904.5 L1239.6 1904.9 L1242.4 1905.2 L1245.2 1904.7 L1247.5 1910.8 L1249.8 1917.1 L1252.7 1917.2 L1255.6 1918.6 L1258.5 1917.8 L1261.3 1919.0 L1264.2 1918.2 L1267.1 1918.3 L1270.0 1919.4 L1272.9 1919.8 L1275.5 1920.1 L1278.2 1922.3 L1280.8 1924.6 L1283.4 1927.4 L1286.0 1929.0 L1288.7 1931.5 L1291.3 1932.5 L1293.8 1932.3 L1296.4 1932.7 L1298.9 1932.8 L1301.5 1932.2 L1304.0 1932.9 L1306.6 1933.0 L1309.4 1933.5 L1312.1 1934.6 L1314.9 1937.6 L1317.7 1940.5 L1320.4 1942.4 L1323.2 1945.1 L1325.9 1947.1 L1328.7 1947.4 L1331.5 1946.9 L1334.3 1947.7 L1337.1 1947.3 L1340.0 1948.1 L1342.8 1947.9 L1345.6 1947.5 L1348.4 1948.3 L1351.2 1948.1 L1354.1 1947.8 L1357.0 1948.6 L1359.8 1948.8 L1362.7 1949.0 L1365.6 1949.2 L1368.5 1949.1 L1371.3 1949.4 L1374.2 1949.5 L1376.9 1949.7 L1379.6 1950.4 L1382.3 1949.9 L1385.0 1949.8 L1387.6 1950.9 L1390.3 1951.1 L1393.0 1951.8 L1395.7 1952.6 L1398.0 1957.8 L1400.3 1962.9 L1403.3 1962.9 L1406.2 1963.9 L1409.2 1964.1 L1412.2 1963.9 L1415.1 1963.2 L1418.1 1964.3 L1421.0 1964.2 L1424.0 1963.9 L1427.0 1963.7 L1429.9 1965.6 L1432.9 1966.6 L1435.9 1968.0 L1438.9 1968.9 L1441.8 1971.3 L1444.8 1971.9 L1447.3 1973.8 L1449.7 1974.9 L1452.2 1976.6 L1454.6 1978.4 L1457.1 1978.9 L1459.8 1979.3 L1462.5 1979.0 L1465.2 1979.4 L1467.8 1979.9 L1470.5 1979.4 L1473.2 1980.0 L1475.9 1980.7 L1478.6 1980.5 L1481.3 1980.5 L1484.1 1979.4 L1486.8 1979.2 L1489.5 1978.6 L1492.3 1977.8 L1495.0 1976.7 L1497.7 1975.8 L1500.5 1975.2 L1503.2 1976.1 L1505.5 1978.4 L1507.8 1979.9 L1510.6 1980.1 L1513.4 1978.7 L1516.2 1977.5 L1519.0 1976.0 L1521.8 1973.6 L1524.6 1972.1 L1527.4 1970.2 L1530.2 1969.4 L1533.0 1968.0 L1535.7 1967.6 L1538.5 1966.9 L1541.2 1967.0 L1544.0 1965.5 L1546.8 1965.7 L1549.5 1964.6 L1552.3 1965.4 L1555.2 1964.2 L1558.1 1964.0 L1561.0 1963.9 L1563.8 1964.7 L1566.7 1964.3 L1569.6 1964.4 L1572.5 1963.9 L1575.4 1963.4 L1578.2 1963.8 L1581.1 1964.3 L1583.9 1965.4 L1586.8 1965.0 L1589.6 1965.5 L1592.5 1966.6 L1595.3 1965.8 L1597.4 1966.3 L1599.4 1964.3 L1601.5 1963.3" fill="none" stroke="#ff1f27" stroke-width="4.4" stroke-linejoin="round" stroke-linecap="round"/>
<g fill="#ff1f27"><circle cx="230.7" cy="1951.0" r="18.5"/><circle cx="256.8" cy="1952.6" r="18.5"/><circle cx="308.4" cy="1938.5" r="18.5"/><circle cx="362.1" cy="1861.7" r="18.5"/><circle cx="413.4" cy="1709.0" r="18.5"/><circle cx="463.0" cy="1544.0" r="18.5"/><circle cx="515.8" cy="1453.4" r="18.5"/><circle cx="570.2" cy="1453.4" r="18.5"/><circle cx="624.3" cy="1514.8" r="18.5"/><circle cx="678.6" cy="1605.4" r="18.5"/><circle cx="731.0" cy="1685.2" r="18.5"/><circle cx="786.0" cy="1749.7" r="18.5"/><circle cx="841.3" cy="1785.6" r="18.5"/><circle cx="893.5" cy="1813.3" r="18.5"/><circle cx="947.2" cy="1837.2" r="18.5"/><circle cx="1001.6" cy="1843.4" r="18.5"/><circle cx="1060.9" cy="1858.7" r="18.5"/><circle cx="1115.2" cy="1872.2" r="18.5"/><circle cx="1168.7" cy="1876.5" r="18.5"/><circle cx="1222.8" cy="1904.3" r="18.5"/><circle cx="1272.9" cy="1919.4" r="18.5"/><circle cx="1328.7" cy="1947.3" r="18.5"/><circle cx="1374.2" cy="1949.4" r="18.5"/><circle cx="1424.0" cy="1963.9" r="18.5"/><circle cx="1478.6" cy="1980.2" r="18.5"/><circle cx="1530.2" cy="1969.4" r="18.5"/><circle cx="1575.4" cy="1963.9" r="18.5"/></g>
</g>
<rect x="190.5" y="41.0" width="1485.5" height="2070.0" fill="none" stroke="#000" stroke-width="8.7"/><g stroke="#000" stroke-width="8.5"><line x1="190.5" y1="2111.0" x2="190.5" y2="2133.2"/><line x1="503.1" y1="2111.0" x2="503.1" y2="2133.2"/><line x1="815.8" y1="2111.0" x2="815.8" y2="2133.2"/><line x1="1128.5" y1="2111.0" x2="1128.5" y2="2133.2"/><line x1="1441.1" y1="2111.0" x2="1441.1" y2="2133.2"/><line x1="346.8" y1="2111.0" x2="346.8" y2="2122.5"/><line x1="659.5" y1="2111.0" x2="659.5" y2="2122.5"/><line x1="972.1" y1="2111.0" x2="972.1" y2="2122.5"/><line x1="1284.8" y1="2111.0" x2="1284.8" y2="2122.5"/><line x1="1597.4" y1="2111.0" x2="1597.4" y2="2122.5"/></g>
<text x="190.50" y="2205.00" font-size="76.00" textLength="118.56" lengthAdjust="spacingAndGlyphs" text-anchor="middle">100</text>
<text x="503.15" y="2205.00" font-size="76.00" textLength="118.56" lengthAdjust="spacingAndGlyphs" text-anchor="middle">200</text>
<text x="815.80" y="2205.00" font-size="76.00" textLength="118.56" lengthAdjust="spacingAndGlyphs" text-anchor="middle">300</text>
<text x="1128.45" y="2205.00" font-size="76.00" textLength="118.56" lengthAdjust="spacingAndGlyphs" text-anchor="middle">400</text>
<text x="1441.10" y="2205.00" font-size="76.00" textLength="118.56" lengthAdjust="spacingAndGlyphs" text-anchor="middle">500</text>
<text x="790.50" y="208.00" font-size="72.00">Fresh</text>
<text x="600.50" y="987.00" font-size="72.00" textLength="438.33" lengthAdjust="spacingAndGlyphs">Regenerated</text>
<text x="1305.00" y="671.00" font-size="88.00" textLength="255.39" lengthAdjust="spacingAndGlyphs">HZ-bo</text>
<text x="1304.00" y="1701.20" font-size="88.00" textLength="280.84" lengthAdjust="spacingAndGlyphs">HZ-atp</text>
<text><tspan x="581.00" y="2339.80" font-size="88.00" textLength="589.58" lengthAdjust="spacingAndGlyphs">Temperature (</tspan><tspan x="1170.00" y="2298.50" font-size="61.00">o</tspan><tspan x="1205.00" y="2339.80" font-size="88.00" textLength="64.57" lengthAdjust="spacingAndGlyphs">C</tspan><tspan x="1274.00" y="2339.80" font-size="88.00" textLength="29.77" lengthAdjust="spacingAndGlyphs">)</tspan></text>
<text transform="translate(96.30 1441.00) rotate(-90)" font-size="88.00" textLength="685.92" lengthAdjust="spacingAndGlyphs">TCD signal (a.u.)</text>
</g>
</svg>
</body>
</html>
